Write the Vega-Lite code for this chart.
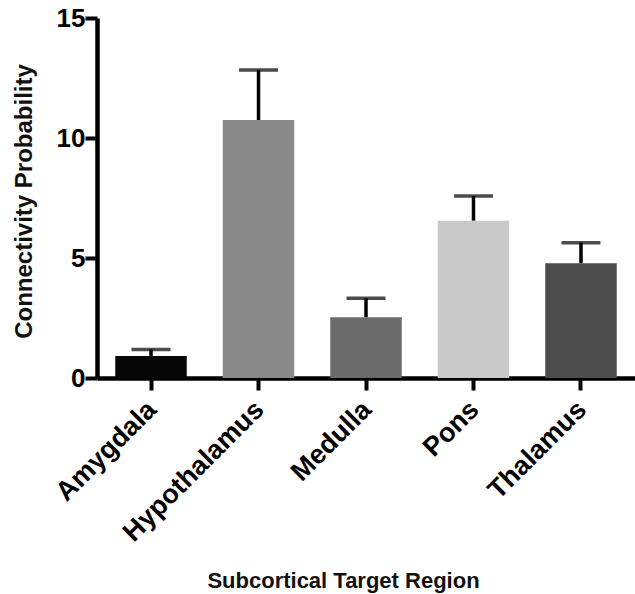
{
  "$schema": "https://vega.github.io/schema/vega-lite/v6.json",
  "width": 538,
  "height": 360,
  "autosize": "none",
  "padding": {"left": 97, "top": 18, "right": 0, "bottom": 216},
  "background": "white",
  "config": {
    "view": {"stroke": null},
    "font": "Liberation Sans"
  },
  "data": {
    "values": [
      {"region": "Amygdala", "value": 0.92, "upper": 1.19},
      {"region": "Hypothalamus", "value": 10.75, "upper": 12.83},
      {"region": "Medulla", "value": 2.53, "upper": 3.32},
      {"region": "Pons", "value": 6.55, "upper": 7.58},
      {"region": "Thalamus", "value": 4.78, "upper": 5.64}
    ]
  },
  "encoding": {
    "x": {
      "field": "region",
      "type": "nominal",
      "sort": null,
      "scale": {"paddingInner": 0.335, "paddingOuter": 0.17},
      "axis": {
        "title": "Subcortical Target Region",
        "titleFont": "Liberation Sans",
        "titleFontSize": 22,
        "titleFontWeight": "bold",
        "titleColor": "#111111",
        "titleX": 246,
        "titleY": 209,
        "titleAlign": "center",
        "titleBaseline": "alphabetic",
        "titleAnchor": null,
        "labelAngle": -45,
        "labelAlign": "right",
        "labelBaseline": "top",
        "labelFont": "Liberation Sans",
        "labelFontSize": 27,
        "labelFontWeight": "bold",
        "labelColor": "black",
        "labelPadding": 6,
        "labelOffset": -8,
        "labelLimit": 400,
        "labelOverlap": false,
        "domainColor": "black",
        "domainWidth": 4.5,
        "tickColor": "black",
        "tickWidth": 4,
        "tickSize": 12,
        "grid": false
      }
    }
  },
  "layer": [
    {
      "mark": {"type": "rule", "color": "black", "strokeWidth": 3.5},
      "encoding": {
        "y": {"field": "value", "type": "quantitative"},
        "y2": {"field": "upper"}
      }
    },
    {
      "mark": {"type": "tick", "color": "black", "thickness": 3.5, "size": 39, "orient": "horizontal"},
      "encoding": {
        "y": {"field": "upper", "type": "quantitative"}
      }
    },
    {
      "mark": {"type": "bar"},
      "encoding": {
        "y": {
          "field": "value",
          "type": "quantitative",
          "scale": {"domain": [0, 15], "nice": false, "zero": true},
          "axis": {
            "title": "Connectivity Probability",
            "titleFont": "Liberation Sans",
            "titleFontSize": 24,
            "titleFontWeight": "bold",
            "titleColor": "#111111",
            "titleX": -66,
            "titleY": 183,
            "titleAlign": "center",
            "titleBaseline": "alphabetic",
            "titleAngle": -90,
            "titleLimit": 400,
            "values": [0, 5, 10, 15],
            "labelFont": "Liberation Sans",
            "labelFontSize": 26,
            "labelFontWeight": "bold",
            "labelColor": "black",
            "labelPadding": 0,
            "domainColor": "black",
            "domainWidth": 4.5,
            "tickColor": "black",
            "tickWidth": 4,
            "tickSize": 12,
            "grid": false
          }
        },
        "color": {
          "field": "region",
          "type": "nominal",
          "legend": null,
          "scale": {
            "domain": ["Amygdala", "Hypothalamus", "Medulla", "Pons", "Thalamus"],
            "range": ["#050505", "#8a8a8a", "#6b6b6b", "#c9c9c9", "#4d4d4d"]
          }
        }
      }
    }
  ]
}
